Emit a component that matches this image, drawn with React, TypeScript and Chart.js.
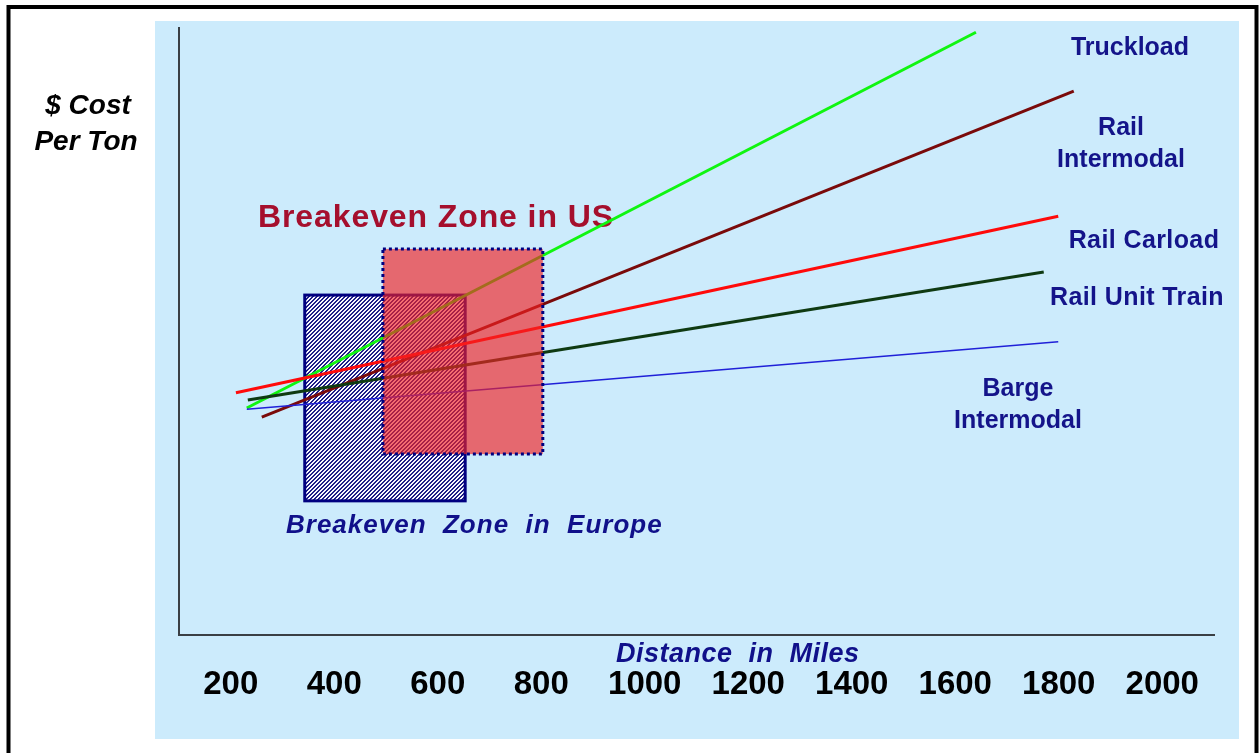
import React, { useEffect, useRef } from 'react';
import { Chart, registerables } from 'chart.js';

Chart.register(...registerables);

const W = 1259;
const H = 753;

// ---- data ----
const xTickValues = [200, 400, 600, 800, 1000, 1200, 1400, 1600, 1800, 2000];

const truckloadMiles = [231, 1640];
const truckloadCost = [37.4, 99.3];
const railIntermodalMiles = [260, 1829];
const railIntermodalCost = [35.9, 89.6];
const railCarloadMiles = [210, 1799];
const railCarloadCost = [39.9, 69.0];
const railUnitTrainMiles = [233, 1771];
const railUnitTrainCost = [38.7, 59.8];
const bargeIntermodalMiles = [231, 1799];
const bargeIntermodalCost = [37.2, 48.3];

const europeZoneMiles = [343, 653];
const europeZoneCost = [22.1, 56.0];
const usZoneMiles = [494, 803];
const usZoneCost = [29.8, 63.6];

const seriesLabels = [
  ['Truckload'],
  ['Rail', 'Intermodal'],
  ['Rail Carload'],
  ['Rail Unit Train'],
  ['Barge', 'Intermodal'],
];
const yTitleLines = ['$ Cost', 'Per Ton'];
const xTitle = 'Distance  in  Miles';
const usZoneTitle = 'Breakeven Zone in US';
const europeZoneTitle = 'Breakeven  Zone  in  Europe';

const FONT = '"Liberation Sans", Arial, sans-serif';

function pts(xs: number[], ys: number[]) {
  return xs.map((x, i) => ({ x, y: ys[i] }));
}

function makeHatch(): CanvasPattern | string {
  const c = document.createElement('canvas');
  c.width = 4;
  c.height = 4;
  const g = c.getContext('2d');
  if (!g) return '#fff';
  const img = g.createImageData(4, 4);
  for (let yy = 0; yy < 4; yy++) {
    for (let xx = 0; xx < 4; xx++) {
      const k = (yy * 4 + xx) * 4;
      const on = (xx + yy) % 4 < 2;
      img.data[k] = on ? 30 : 248;
      img.data[k + 1] = on ? 30 : 248;
      img.data[k + 2] = on ? 135 : 255;
      img.data[k + 3] = 255;
    }
  }
  g.putImageData(img, 0, 0);
  const p = g.createPattern(c, 'repeat');
  return p || '#fff';
}

export default function App() {
  const ref = useRef<HTMLCanvasElement | null>(null);

  useEffect(() => {
    const canvas = ref.current;
    if (!canvas) return;
    const hatch = makeHatch();

    const decor = {
      id: 'decor',
      beforeDraw(chart: any) {
        const ctx = chart.ctx as CanvasRenderingContext2D;
        ctx.save();
        ctx.fillStyle = '#ffffff';
        ctx.fillRect(0, 0, W, H);
        ctx.fillStyle = '#CCEBFC';
        ctx.fillRect(155, 21, 1084, 718);
        ctx.strokeStyle = '#000000';
        ctx.lineWidth = 4;
        ctx.strokeRect(8.5, 7, 1248, 800);
        ctx.restore();
      },
      beforeDatasetsDraw(chart: any) {
        const ctx = chart.ctx as CanvasRenderingContext2D;
        const { x, y } = chart.scales;
        const l = x.getPixelForValue(europeZoneMiles[0]);
        const r = x.getPixelForValue(europeZoneMiles[1]);
        const t = y.getPixelForValue(europeZoneCost[1]);
        const b = y.getPixelForValue(europeZoneCost[0]);
        ctx.save();
        ctx.fillStyle = hatch as any;
        ctx.fillRect(l, t, r - l, b - t);
        ctx.strokeStyle = '#000080';
        ctx.lineWidth = 3;
        ctx.strokeRect(l, t, r - l, b - t);
        // US title (lines pass over it)
        ctx.fillStyle = '#A50F2D';
        ctx.font = `bold 32px ${FONT}`;
        ctx.textAlign = 'left';
        ctx.textBaseline = 'alphabetic';
        (ctx as any).letterSpacing = '0.9px';
        ctx.fillText(usZoneTitle, 258, 227);
        (ctx as any).letterSpacing = '0px';
        ctx.restore();
      },
      afterDatasetsDraw(chart: any) {
        const ctx = chart.ctx as CanvasRenderingContext2D;
        const { x, y } = chart.scales;
        const l = x.getPixelForValue(usZoneMiles[0]);
        const r = x.getPixelForValue(usZoneMiles[1]);
        const t = y.getPixelForValue(usZoneCost[1]);
        const b = y.getPixelForValue(usZoneCost[0]);
        ctx.save();
        ctx.fillStyle = 'rgba(242, 34, 35, 0.65)';
        ctx.fillRect(l, t, r - l, b - t);
        ctx.strokeStyle = '#000080';
        ctx.lineWidth = 3;
        ctx.setLineDash([3, 3]);
        ctx.strokeRect(l, t, r - l, b - t);
        ctx.restore();
      },
      afterDraw(chart: any) {
        const ctx = chart.ctx as CanvasRenderingContext2D;
        ctx.save();
        ctx.textBaseline = 'alphabetic';
        // y title
        ctx.fillStyle = '#000000';
        ctx.font = `italic bold 28px ${FONT}`;
        ctx.textAlign = 'center';
        ctx.fillText(yTitleLines[0], 88, 114);
        ctx.fillText(yTitleLines[1], 86, 150);

        // x title
        ctx.fillStyle = '#10108A';
        ctx.font = `italic bold 27px ${FONT}`;
        ctx.textAlign = 'left';
        (ctx as any).letterSpacing = '0.5px';
        ctx.fillText(xTitle, 616, 662);

        // Europe title
        (ctx as any).letterSpacing = '1px';
        ctx.font = `italic bold 26px ${FONT}`;
        ctx.fillText(europeZoneTitle, 286, 533);
        (ctx as any).letterSpacing = '0px';

        // series labels
        ctx.fillStyle = '#14148A';
        ctx.font = `bold 25px ${FONT}`;
        ctx.textAlign = 'center';
        const spots: [number, number[]][] = [
          [1130, [55]],
          [1121, [135, 167]],
          [1144, [248]],
          [1137, [305]],
          [1018, [396, 428]],
        ];
        seriesLabels.forEach((lines, i) => {
          const [cx, ys] = spots[i];
          (ctx as any).letterSpacing = lines[0].includes(' ') ? '0.4px' : '0px';
          lines.forEach((ln, j) => ctx.fillText(ln, cx, ys[j]));
        });
        (ctx as any).letterSpacing = '0px';
        ctx.restore();
      },
    };

    const mk = (label: string, xs: number[], ys: number[], color: string, width: number) => ({
      label,
      data: pts(xs, ys),
      borderColor: color,
      backgroundColor: color,
      borderWidth: width,
      pointRadius: 0,
      pointHoverRadius: 0,
      fill: false,
      tension: 0,
      clip: false as any,
    });

    const chart = new Chart(canvas, {
      type: 'line',
      data: {
        datasets: [
          mk('Barge Intermodal', bargeIntermodalMiles, bargeIntermodalCost, '#2020D8', 1.5),
          mk('Rail Unit Train', railUnitTrainMiles, railUnitTrainCost, '#0F3A12', 3),
          mk('Rail Carload', railCarloadMiles, railCarloadCost, '#FF0A0A', 3),
          mk('Rail Intermodal', railIntermodalMiles, railIntermodalCost, '#7A0A0A', 3),
          mk('Truckload', truckloadMiles, truckloadCost, '#10F510', 3),
        ] as any,
      },
      options: {
        animation: false,
        responsive: false,
        maintainAspectRatio: false,
        events: [],
        layout: { padding: { left: 179, right: 45, top: 28, bottom: 0 } },
        plugins: {
          legend: { display: false },
          tooltip: { enabled: false },
          title: { display: false },
        },
        scales: {
          x: {
            type: 'linear',
            min: 100,
            max: 2100,
            afterBuildTicks: (s: any) => {
              s.ticks = xTickValues.map((v) => ({ value: v }));
            },
            afterFit: (s: any) => {
              s.height = 118;
            },
            grid: { display: false, drawTicks: false },
            border: { display: true, color: '#3A3F44', width: 2 },
            ticks: {
              autoSkip: false,
              maxRotation: 0,
              minRotation: 0,
              padding: 30,
              color: '#000000',
              font: { family: FONT, size: 33, weight: 'bold' },
              callback: (v: any) => String(v),
            },
          },
          y: {
            type: 'linear',
            min: 0,
            max: 100,
            afterFit: (s: any) => {
              s.width = 0;
            },
            grid: { display: false, drawTicks: false },
            border: { display: true, color: '#3A3F44', width: 2 },
            ticks: { display: false },
          },
        },
      } as any,
      plugins: [decor],
    });

    return () => chart.destroy();
  }, []);

  return (
    <div style={{ position: 'fixed', left: 0, top: 0, width: W, height: H }}>
      <canvas ref={ref} width={W} height={H} style={{ display: 'block', width: W, height: H }} />
    </div>
  );
}
